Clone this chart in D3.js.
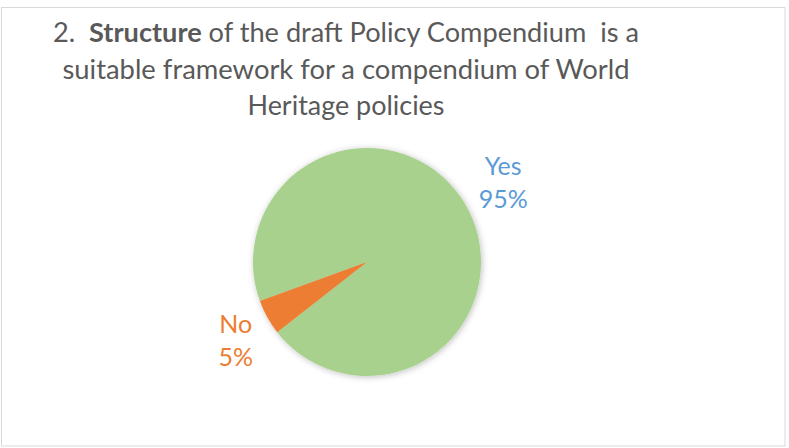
<!DOCTYPE html>
<html>
<head>
<meta charset="utf-8">
<script src="https://cdn.jsdelivr.net/npm/d3@7"></script>
<style>
  body { margin: 0; background: #fff; }
  svg { display: block; font-family: Lato, "Open Sans", sans-serif; }
</style>
</head>
<body>
<svg id="chart"></svg>
<script>
// data
const categories = ["Yes", "No"];
const values = [95, 5];
const percentLabels = ["95%", "5%"];
const titleLines = [
  [["2.  ", false], ["Structure", true], [" of the draft Policy Compendium  is a", false]],
  [["suitable framework for a compendium of World", false]],
  [["Heritage policies", false]]
];

const width = 789, height = 448;
const sliceColors = ["#A9D18E", "#ED7D31"];
const labelColors = ["#5B9BD5", "#ED7D31"];

const svg = d3.select("#chart").attr("width", width).attr("height", height);

svg.append("rect")
  .attr("x", 1.5).attr("y", 7.5)
  .attr("width", 783.5).attr("height", 438.5)
  .attr("fill", "#fff")
  .attr("stroke", "#D9D9D9");

const defs = svg.append("defs");
const shadow = defs.append("filter").attr("id", "shadow")
  .attr("x", "-20%").attr("y", "-20%").attr("width", "140%").attr("height", "140%");
shadow.append("feDropShadow")
  .attr("dx", 1).attr("dy", 1).attr("stdDeviation", 3)
  .attr("flood-color", "#000").attr("flood-opacity", 0.25);

// title
const titleX = 346;
const titleBaselines = [42, 78.5, 115];
const titleWidths = [586, 567, 197];
const title = svg.append("g").attr("fill", "#595959").attr("font-size", 26);
titleLines.forEach((parts, i) => {
  const t = title.append("text")
    .attr("x", titleX).attr("y", titleBaselines[i])
    .attr("text-anchor", "middle")
    .attr("xml:space", "preserve")
    .style("white-space", "pre");
  parts.forEach(([s, bold]) => {
    t.append("tspan").attr("font-weight", bold ? "bold" : "normal").text(s);
  });
  t.attr("textLength", titleWidths[i]).attr("lengthAdjust", "spacingAndGlyphs");
});

// pie
const cx = 367, cy = 262, radius = 114;
const start = 250 * Math.PI / 180;
const pie = d3.pie().sort(null).startAngle(start).endAngle(start + 2 * Math.PI);
const arcs = pie(values);
const arc = d3.arc().innerRadius(0).outerRadius(radius);
const labelArc = d3.arc().innerRadius(150).outerRadius(150);

const g = svg.append("g").attr("transform", `translate(${cx},${cy})`);
g.append("g").attr("filter", "url(#shadow)")
  .selectAll("path")
  .data(arcs)
  .join("path")
  .attr("d", arc)
  .attr("fill", (d, i) => sliceColors[i]);

// small nudges so the labels sit where the original placed them
const labelNudge = [[5, -6], [0, 6]];
const labels = g.selectAll(".lbl")
  .data(arcs)
  .join("text")
  .attr("class", "lbl")
  .attr("text-anchor", "middle")
  .attr("font-size", 25)
  .attr("fill", (d, i) => labelColors[i])
  .attr("transform", (d, i) => {
    const [x, y] = labelArc.centroid(d);
    return `translate(${x + labelNudge[i][0]},${y + labelNudge[i][1]})`;
  });
labels.append("tspan").attr("x", 0).attr("y", -8).text((d, i) => categories[i]);
labels.append("tspan").attr("x", 0).attr("y", 25).text((d, i) => percentLabels[i]);
</script>
</body>
</html>
